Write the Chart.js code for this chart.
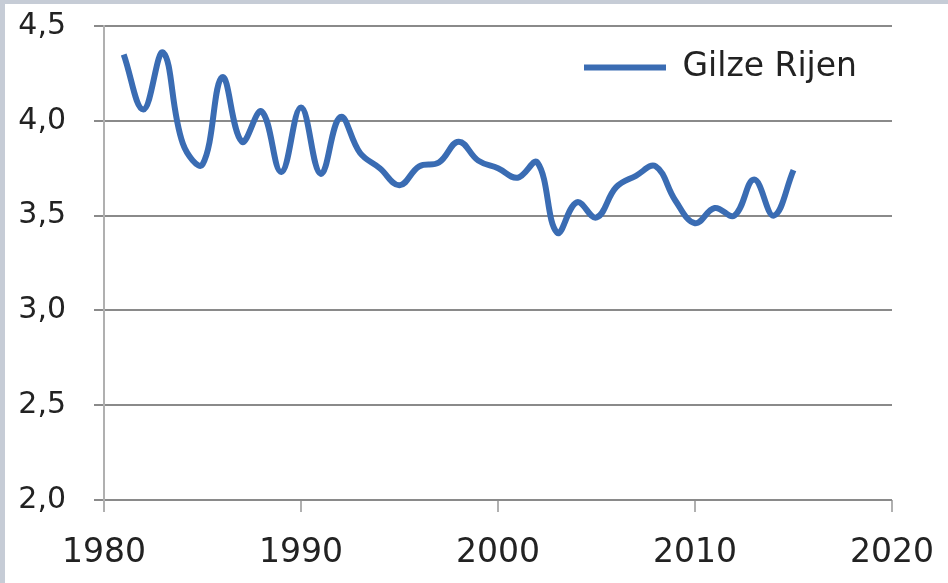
<!DOCTYPE html>
<html>
<head>
<meta charset="utf-8">
<script src="https://cdn.jsdelivr.net/npm/chart.js@4"></script>
<style>
  html, body { margin: 0; padding: 0; background: #c6ccd6; }
  #wrap { position: absolute; left: 5px; top: 4px; width: 943px; height: 579px; background: #ffffff; }
  canvas { display: block; }
</style>
</head>
<body>
<div id="wrap"><canvas id="c" width="943" height="579"></canvas></div>
<script>
const seriesName = "Gilze Rijen";
const years = [1981,1982,1983,1984,1985,1986,1987,1988,1989,1990,
               1991,1992,1993,1994,1995,1996,1997,1998,1999,2000,
               2001,2002,2003,2004,2005,2006,2007,2008,2009,2010,
               2011,2012,2013,2014,2015];
const values = [4.35,4.06,4.36,3.88,3.77,4.23,3.89,4.05,3.73,4.07,
                3.72,4.02,3.83,3.75,3.66,3.76,3.78,3.89,3.79,3.75,
                3.70,3.78,3.41,3.57,3.49,3.65,3.71,3.76,3.58,3.46,
                3.54,3.50,3.69,3.50,3.74];
const xTicks = [1980,1990,2000,2010,2020];
const yTicks = [2.0,2.5,3.0,3.5,4.0,4.5];

const lineColor = '#3a6cb3';
const font = 'DejaVu Sans';

// place the legend inside the plot area, top-right like the original
const legendPlacer = {
  id: 'legendPlacer',
  beforeDraw(chart) {
    const lg = chart.legend;
    if (!lg) return;
    const h = lg.height;
    lg.left = 569;
    lg.right = lg.left + 300;
    lg.top = 37;
    lg.bottom = lg.top + h;
  }
};

new Chart(document.getElementById('c'), {
  type: 'line',
  data: {
    datasets: [{
      label: seriesName,
      data: years.map((y, i) => ({ x: y, y: values[i] })),
      borderColor: lineColor,
      backgroundColor: lineColor,
      borderWidth: 6,
      pointRadius: 0,
      tension: 0.4,
      fill: false
    }]
  },
  plugins: [legendPlacer],
  options: {
    responsive: false,
    animation: false,
    layout: { padding: { top: 22, right: 56, left: 0, bottom: 0 } },
    plugins: {
      tooltip: { enabled: false },
      legend: {
        position: 'chartArea',
        fullSize: false,
        align: 'start',
        labels: {
          usePointStyle: true,
          pointStyle: 'line',
          pointStyleWidth: 82,
          padding: 10,
          color: '#222222',
          font: { family: font, size: 33 }
        }
      }
    },
    scales: {
      x: {
        type: 'linear',
        min: 1980, max: 2020,
        afterBuildTicks: s => { s.ticks = xTicks.map(v => ({ value: v })); },
        afterFit: s => { s.height = 83; s.paddingLeft = 0; s.paddingRight = 0; },
        ticks: {
          color: '#222222',
          font: { family: font, size: 33 },
          padding: 22,
          maxRotation: 0,
          callback: v => String(v)
        },
        grid: {
          drawOnChartArea: false,
          drawTicks: true,
          tickLength: 12,
          color: '#b0b0b0',
          lineWidth: 2
        },
        border: { display: false }
      },
      y: {
        min: 2.0, max: 4.5,
        afterBuildTicks: s => { s.ticks = yTicks.map(v => ({ value: v })); },
        afterFit: s => { s.width = 99; s.paddingTop = 18; s.paddingBottom = 18; },
        ticks: {
          color: '#222222',
          font: { family: font, size: 30 },
          padding: 28,
          callback: v => v.toFixed(1).replace('.', ',')
        },
        grid: {
          color: '#8a8a8a',
          lineWidth: 2,
          tickLength: 10
        },
        border: { display: true, color: '#b0b0b0', width: 2 }
      }
    }
  }
});
</script>
</body>
</html>
